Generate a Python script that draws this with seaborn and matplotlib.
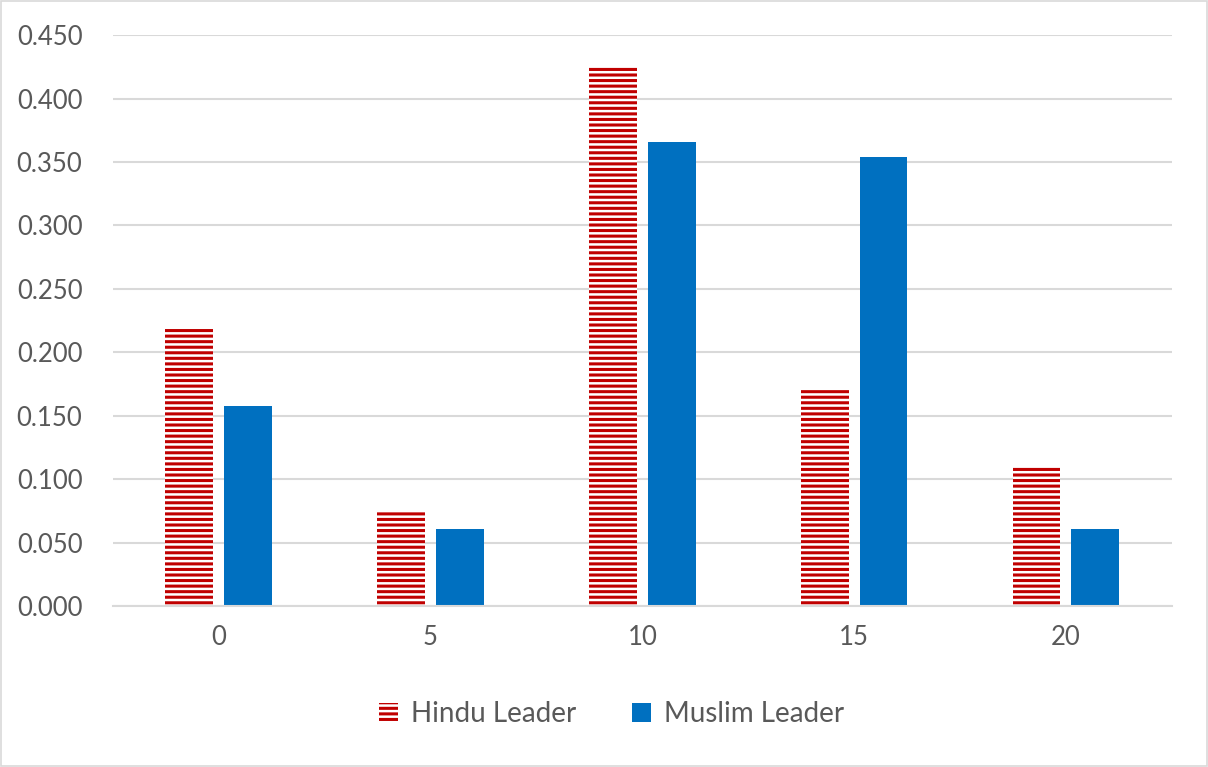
import pandas as pd
import matplotlib
matplotlib.use('Agg')
import matplotlib.pyplot as plt
import seaborn as sns
from matplotlib.patches import Rectangle, Patch

# --- DATA ---
categories = ['0', '5', '10', '15', '20']
hindu_leader = [0.218, 0.074, 0.426, 0.170, 0.110]
muslim_leader = [0.158, 0.061, 0.366, 0.354, 0.061]
series_names = ['Hindu Leader', 'Muslim Leader']
y_ticks = [0.0, 0.05, 0.10, 0.15, 0.20, 0.25, 0.30, 0.35, 0.40, 0.45]

RED = '#C00000'
BLUE = '#0070C0'
GRID = '#D9D9D9'
TEXT = '#595959'

df = pd.DataFrame({
    'cat': categories * 2,
    'value': hindu_leader + muslim_leader,
    'series': [series_names[0]] * 5 + [series_names[1]] * 5,
})

# --- STYLE ---
sns.set_style('white')
plt.rcParams['font.family'] = ['Lato', 'DejaVu Sans']
plt.rcParams['hatch.linewidth'] = 2.2

fig = plt.figure(figsize=(12.08, 7.67), dpi=100)
ax = fig.add_axes([0.0935, 0.21, 0.8765, 0.744])

sns.barplot(data=df, x='cat', y='value', hue='series', order=categories,
            hue_order=series_names, palette=[RED, BLUE], width=0.556,
            gap=0.187, ax=ax, legend=False, saturation=1)

# hindu bars: white with red horizontal stripes
for patch in ax.containers[0]:
    patch.set_facecolor('white')
    patch.set_edgecolor(RED)
    patch.set_hatch('---')
    patch.set_linewidth(0)
for patch in ax.containers[1]:
    patch.set_linewidth(0)

ax.set_ylim(0, 0.45)
ax.set_xlim(-0.5, 4.5)
ax.set_yticks(y_ticks)
ax.set_yticklabels([f'{v:.3f}' for v in y_ticks])
ax.yaxis.grid(True, color=GRID, linewidth=1.5)
ax.set_axisbelow(True)
ax.set_xlabel('')
ax.set_ylabel('')
for side in ['top', 'right', 'left']:
    ax.spines[side].set_visible(False)
ax.spines['bottom'].set_color(GRID)
ax.spines['bottom'].set_linewidth(1.5)
ax.tick_params(axis='both', length=0, labelsize=18.5, colors=TEXT)
ax.tick_params(axis='y', pad=22)
ax.tick_params(axis='x', pad=14)

handles = [
    Patch(facecolor='white', edgecolor=RED, hatch='---', linewidth=0),
    Patch(facecolor=BLUE, edgecolor=BLUE, linewidth=0),
]
leg = fig.legend(handles, series_names, loc='center', bbox_to_anchor=(0.506, 0.069),
                 ncol=2, frameon=False, fontsize=20, handlelength=0.7,
                 handleheight=0.7, handletextpad=0.45, columnspacing=2.0)
for t in leg.get_texts():
    t.set_color(TEXT)

# light grey border around the chart
fig.patches.append(Rectangle((0.0008, 0.0013), 0.9984, 0.9974, transform=fig.transFigure,
                             fill=False, edgecolor=GRID, linewidth=1.2))

fig.savefig('out.png', dpi=100)
